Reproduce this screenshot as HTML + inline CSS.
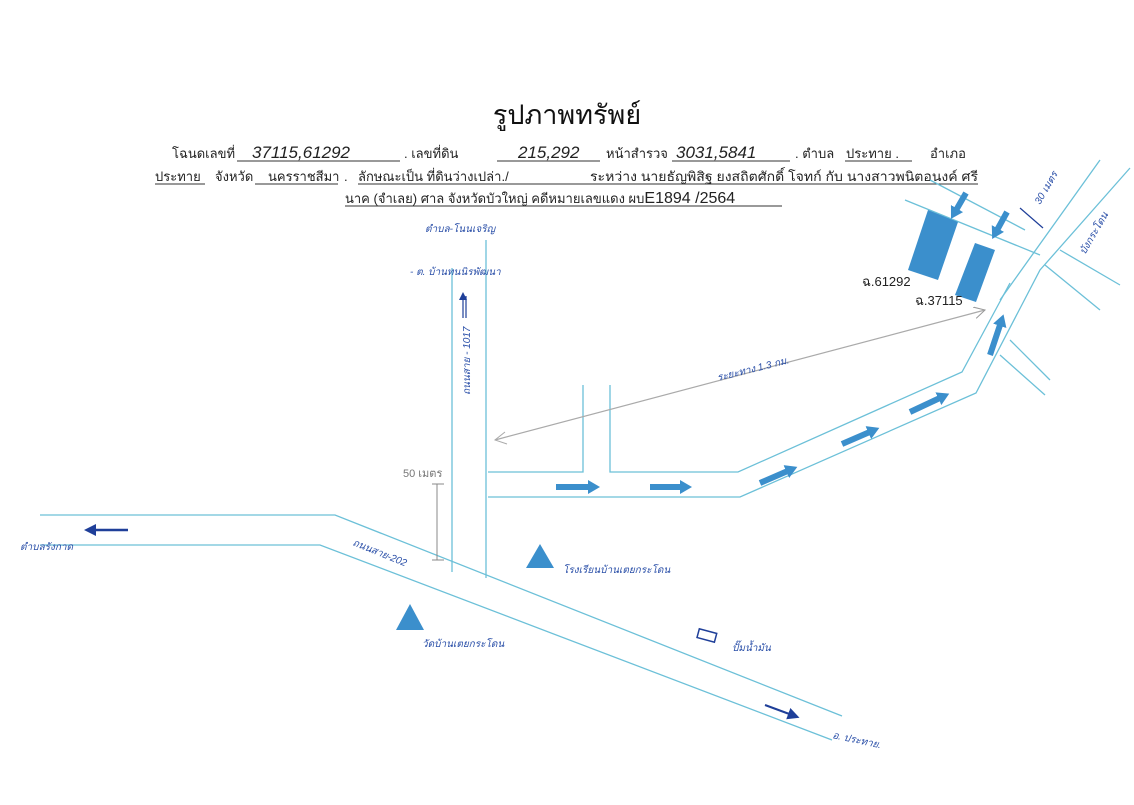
<!DOCTYPE html>
<html><head><meta charset="utf-8"><style>
body{margin:0;background:#fff;width:1134px;height:800px;overflow:hidden;font-family:"Liberation Sans","Noto Sans CJK SC",sans-serif}
</style></head><body>
<svg width="1134" height="800" viewBox="0 0 1134 800" xmlns="http://www.w3.org/2000/svg">
<defs>
<marker id="ah" markerUnits="userSpaceOnUse" markerWidth="14" markerHeight="14" refX="4" refY="7" orient="auto"><path d="M0,0 L12,7 L0,14 z" fill="#3b8fcc"/></marker>
<marker id="dk" markerUnits="userSpaceOnUse" markerWidth="12" markerHeight="12" refX="4" refY="6" orient="auto"><path d="M0,0 L12,6 L0,12 z" fill="#1f3f99"/></marker>
<marker id="sm" markerUnits="userSpaceOnUse" markerWidth="8" markerHeight="8" refX="4" refY="4" orient="auto"><path d="M0,0 L8,4 L0,8 z" fill="#1f3f99"/></marker>
<marker id="gr" markerUnits="userSpaceOnUse" markerWidth="12" markerHeight="12" refX="11" refY="6" orient="auto"><path d="M0,0 L11,6 L0,12" fill="none" stroke="#999"/></marker>
</defs>
<text x="567" y="124" text-anchor="middle" font-family="'Liberation Serif','Noto Serif CJK SC',serif" font-size="27" fill="#111">รูปภาพทรัพย์</text>
<g font-size="13" fill="#222">
<text x="172" y="158">โฉนดเลขที่</text>
<text x="252" y="158" font-size="17" font-style="italic">37115,61292</text>
<text x="404" y="158">. เลขที่ดิน</text>
<text x="518" y="158" font-size="17" font-style="italic">215,292</text>
<text x="606" y="158">หน้าสำรวจ</text>
<text x="676" y="158" font-size="17" font-style="italic">3031,5841</text>
<text x="795" y="158">. ตำบล</text>
<text x="846" y="158">ประทาย  .</text>
<text x="930" y="158">อำเภอ</text>
<text x="155" y="181">ประทาย</text>
<text x="215" y="181">จังหวัด</text>
<text x="268" y="181">นครราชสีมา</text>
<text x="344" y="181">.</text>
<text x="358" y="181">ลักษณะเป็น ที่ดินว่างเปล่า./</text>
<text x="590" y="181" textLength="388" lengthAdjust="spacingAndGlyphs">ระหว่าง  นายธัญพิสิฐ ยงสถิตศักดิ์ โจทก์ กับ   นางสาวพนิตอนงค์ ศรี</text>
<text x="345" y="203">นาค (จำเลย) ศาล จังหวัดบัวใหญ่   คดีหมายเลขแดง  ผบ<tspan font-size="16">E1894 /2564</tspan></text>
</g>
<g stroke="#333" stroke-width="1">
<line x1="237" y1="161" x2="400" y2="161"/><line x1="497" y1="161" x2="600" y2="161"/>
<line x1="672" y1="161" x2="790" y2="161"/><line x1="845" y1="161" x2="912" y2="161"/>
<line x1="155" y1="184" x2="205" y2="184"/><line x1="255" y1="184" x2="338" y2="184"/>
<line x1="358" y1="184" x2="978" y2="184"/><line x1="345" y1="206" x2="782" y2="206"/>
</g>
<g fill="none" stroke="#6cc0d8" stroke-width="1.3">
<path d="M452,268 L452,572"/><path d="M486,240 L486,578"/>
<path d="M488,472 L583,472 L583,385"/><path d="M610,385 L610,472 L738,472 L962,372 L1010,283"/>
<path d="M488,497 L740,497 L976,393 L1040,270 L1130,168"/>
<path d="M1000,300 L1100,160"/>
<path d="M40,515 L335,515 L842,716"/><path d="M40,545 L320,545 L832,740"/>
<path d="M905,200 L1040,255"/><path d="M930,180 L1025,230"/>
<path d="M1045,265 L1100,310"/><path d="M1060,250 L1120,285"/>
<path d="M1010,340 L1050,380"/><path d="M1000,355 L1045,395"/>
</g>
<g stroke="#3b8fcc" stroke-width="6" marker-end="url(#ah)" fill="none">
<line x1="556" y1="487" x2="592" y2="487"/><line x1="650" y1="487" x2="684" y2="487"/>
<line x1="760" y1="483" x2="790" y2="470"/><line x1="842" y1="444" x2="872" y2="431"/>
<line x1="910" y1="412" x2="942" y2="397"/><line x1="990" y1="355" x2="1001" y2="322"/>
<line x1="966" y1="193" x2="955" y2="212"/><line x1="1007" y1="212" x2="996" y2="232"/>
</g>
<polygon points="908,270 928,210 958,222 938,280" fill="#3b8fcc"/>
<polygon points="955,295 975,243 995,250 976,302" fill="#3b8fcc"/>
<polygon points="540,544 526,568 554,568" fill="#3b8fcc"/>
<polygon points="410,604 396,630 424,630" fill="#3b8fcc"/>
<rect x="698" y="631" width="18" height="9" fill="none" stroke="#1f3f99" stroke-width="1.5" transform="rotate(15 707 635)"/>
<line x1="495" y1="440" x2="985" y2="310" stroke="#aaa" stroke-width="1.2" marker-end="url(#gr)"/>
<path d="M505,432 L495,440 L507,444" fill="none" stroke="#aaa"/>
<line x1="128" y1="530" x2="92" y2="530" stroke="#1f3f99" stroke-width="2.5" marker-end="url(#dk)"/>
<line x1="765" y1="705" x2="792" y2="715" stroke="#1f3f99" stroke-width="2" marker-end="url(#dk)"/>
<line x1="463" y1="318" x2="463" y2="296" stroke="#1f3f99" stroke-width="1.2" marker-end="url(#sm)"/>
<line x1="466" y1="318" x2="466" y2="296" stroke="#1f3f99" stroke-width="1.2"/>
<line x1="437" y1="484" x2="437" y2="560" stroke="#888" stroke-width="1"/>
<line x1="432" y1="484" x2="444" y2="484" stroke="#888"/><line x1="432" y1="560" x2="444" y2="560" stroke="#888"/>
<line x1="1020" y1="208" x2="1043" y2="228" stroke="#1f3f99" stroke-width="1.2"/>
<g font-size="10" fill="#2a4fa8" font-style="italic">
<text x="425" y="232">ตำบล-โนนเจริญ</text>
<text x="410" y="275">- ต. บ้านทนนิรพัฒนา</text>
<text x="470" y="395" transform="rotate(-90 470 395)">ถนนสาย - 1017</text>
<text x="718" y="381" transform="rotate(-14 718 381)">ระยะทาง 1.3 กม.</text>
<text x="20" y="550">ตำบลรังกาด</text>
<text x="352" y="545" transform="rotate(22 352 545)">ถนนสาย-202</text>
<text x="563" y="573">โรงเรียนบ้านเตยกระโดน</text>
<text x="422" y="647">วัดบ้านเตยกระโดน</text>
<text x="732" y="651">ปั๊มน้ำมัน</text>
<text x="832" y="738" transform="rotate(12 832 738)">อ. ประทาย.</text>
<text x="1040" y="205" transform="rotate(-60 1040 205)">30 เมตร</text>
<text x="1085" y="255" transform="rotate(-60 1085 255)">บังกระโดน</text>
</g>
<text x="403" y="477" font-size="11" fill="#777">50 เมตร</text>
<text x="862" y="286" font-size="13" fill="#222">ฉ.61292</text>
<text x="915" y="305" font-size="13" fill="#222">ฉ.37115</text>
</svg>
</body></html>
